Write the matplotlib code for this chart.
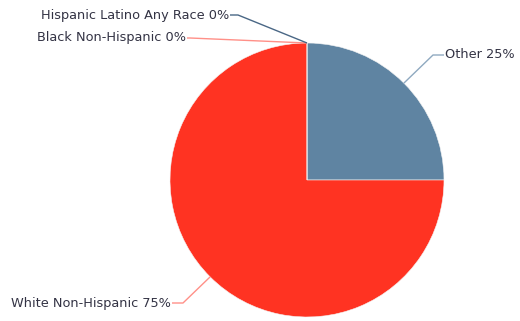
import numpy as np
import matplotlib
matplotlib.use("Agg")
import matplotlib.pyplot as plt

categories = ["Other", "White Non-Hispanic", "Black Non-Hispanic", "Hispanic Latino Any Race"]
values = [25, 75, 0, 0]
colors = ["#5f84a2", "#ff3322", "#ff6a5e", "#3f5f80"]
line_colors = ["#8fa9c0", "#ff9088", "#ff9088", "#4a6785"]

W, H = 520, 321
fig = plt.figure(figsize=(W / 100, H / 100), dpi=100)
ax = fig.add_axes([0, 0, 1, 1])

cx, cy, r = 307, H - 180, 137
wedges, _ = ax.pie(values, colors=colors, startangle=90, counterclock=False,
                   center=(cx, cy), radius=r, frame=True,
                   wedgeprops=dict(edgecolor="#f4f4f4", linewidth=0.4))
ax.set_xlim(0, W)
ax.set_ylim(0, H)
ax.set_aspect("equal")
ax.axis("off")

# label placements: (elbow x, elbow y in px from top, text end/start x, side)
label_pos = {
    "Other": (433, 55, 444, "left"),
    "White Non-Hispanic": (183, 303, 172, "right"),
    "Black Non-Hispanic": (190, 38, 187, "right"),
    "Hispanic Latino Any Race": (238, 15, 230, "right"),
}

total = sum(values)
for cat, v, w, lc in zip(categories, values, wedges, line_colors):
    mid = np.deg2rad((w.theta1 + w.theta2) / 2)
    px, py = cx + r * np.cos(mid), cy + r * np.sin(mid)
    ex, ey, tx, ha = label_pos[cat]
    ey = H - ey
    ax.plot([px, ex, tx], [py, ey, ey], color=lc, lw=1, solid_capstyle="butt")
    ax.text(tx + (1 if ha == "left" else -1), ey, f"{cat} {round(100 * v / total)}%",
            ha=ha, va="center", fontsize=9.3, color="#333344", family="DejaVu Sans")

fig.savefig("out.png", dpi=100)
